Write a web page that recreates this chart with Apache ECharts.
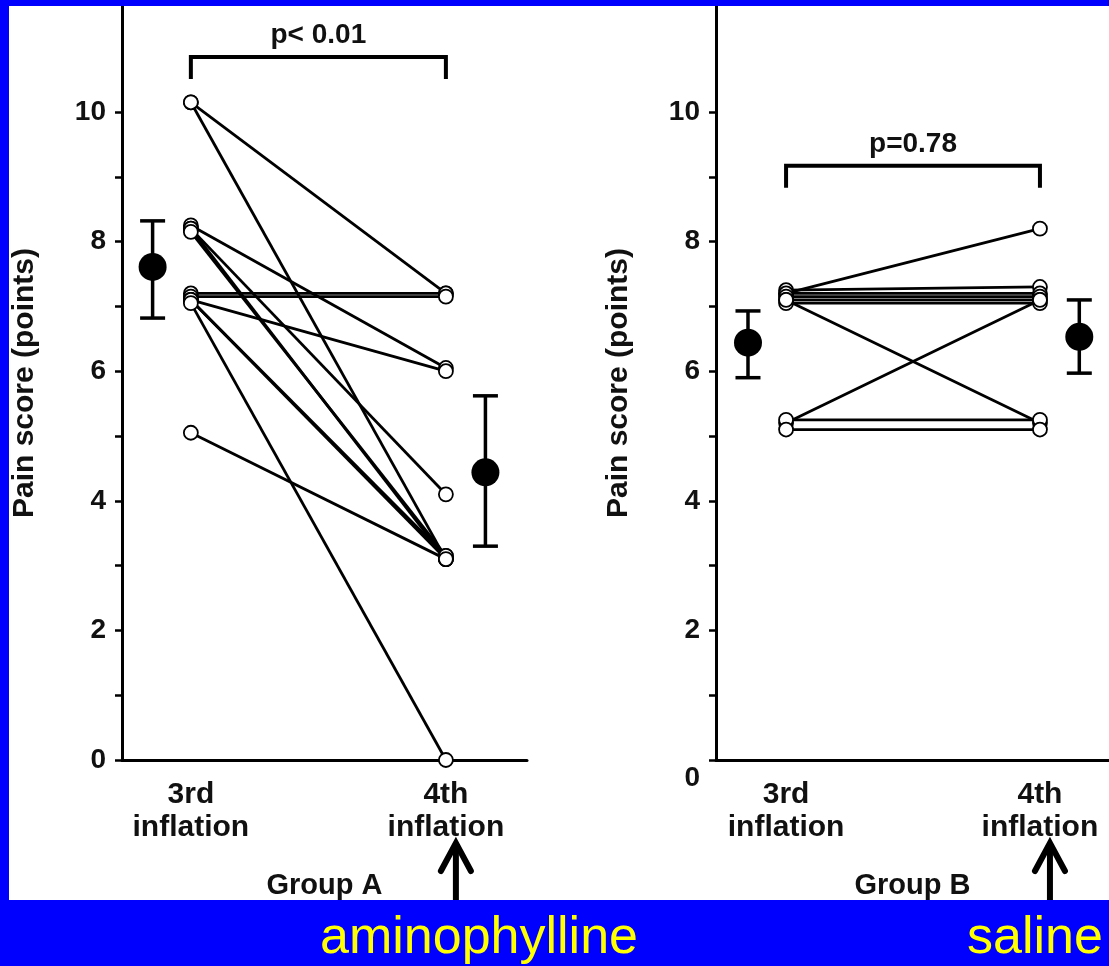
<!DOCTYPE html>
<html><head><meta charset="utf-8">
<script src="https://cdn.jsdelivr.net/npm/echarts@6/dist/echarts.min.js"></script>
<style>html,body{margin:0;padding:0;background:#0000ff}#c{width:1109px;height:966px}</style>
</head><body><div id="c"></div>
<script>
// ---------- data ----------
const categories = ['3rd\ninflation', '4th\ninflation'];
const groupNames = ['Group A', 'Group B'];
const treatments = ['aminophylline', 'saline'];
const pLabels = ['p< 0.01', 'p=0.78'];
const yTickLabels = [0, 2, 4, 6, 8, 10];
const yTicks = [0, 1, 2, 3, 4, 5, 6, 7, 8, 9, 10];

// individual subjects (3rd inflation -> 4th inflation)
const groupA3rd = [10.15, 10.15, 8.25, 8.2, 8.2, 8.15, 7.2, 7.15, 7.1, 7.1, 7.1, 7.05, 5.05];
const groupA4th = [7.2, 3.1, 6.05, 4.1, 3.1, 3.15, 7.2, 7.15, 6.0, 3.1, 3.15, 0, 3.1];
const groupB3rd = [7.2, 7.25, 7.2, 7.15, 7.1, 7.05, 7.1, 5.2, 5.25, 5.1];
const groupB4th = [8.2, 7.3, 7.2, 7.15, 7.1, 7.05, 5.2, 7.1, 5.25, 5.1];

// means and error bars [3rd, 4th]
const groupAMean = [7.61, 4.44];
const groupALow = [6.82, 3.30];
const groupAHigh = [8.32, 5.62];
const groupBMean = [6.44, 6.53];
const groupBLow = [5.90, 5.97];
const groupBHigh = [6.93, 7.10];

// ---------- layout ----------
const FONT = '"Liberation Sans", Arial, Helvetica, sans-serif';
const groups = [
  {pre: groupA3rd, post: groupA4th, mean: groupAMean, low: groupALow, high: groupAHigh},
  {pre: groupB3rd, post: groupB4th, mean: groupBMean, low: groupBLow, high: groupBHigh}
];
const xRange = [{min: -0.27, max: 1.318}, {min: -0.276, max: 1.272}];
const meanOffset = [-0.15, 0.155];
const bracketLevels = [{top: 10.85, leg: 10.51}, {top: 9.17, leg: 8.83}];
const Y_MAX = 11.636;

const grid = [
  {left: 122, top: 6, width: 405, height: 754},
  {left: 716, top: 6, width: 393, height: 754}
];

const xAxis = groups.map((g, i) => ({
  type: 'value', gridIndex: i, min: xRange[i].min, max: xRange[i].max,
  axisLine: {show: true, onZero: false, lineStyle: {color: '#000', width: 3}},
  axisTick: {show: false},
  splitLine: {show: false},
  axisLabel: {
    customValues: [0, 1],
    formatter: v => categories[Math.round(v)],
    fontFamily: FONT, fontSize: 30, fontWeight: 'bold', color: '#111', lineHeight: 33, margin: 18
  },
  name: groupNames[i], nameLocation: 'middle', nameGap: 111,
  nameTextStyle: {fontFamily: FONT, fontSize: 29, fontWeight: 'bold', color: '#111'}
}));

const yAxis = groups.map((g, i) => ({
  type: 'value', gridIndex: i, min: 0, max: Y_MAX,
  axisLine: {show: true, onZero: false, lineStyle: {color: '#000', width: 3}},
  axisTick: {show: true, customValues: yTicks, length: 7, lineStyle: {color: '#000', width: 2.5}},
  splitLine: {show: false},
  axisLabel: {
    customValues: yTickLabels,
    formatter: v => (i === 1 && v === 0) ? '{z|0}' : String(v),
    rich: {z: {fontFamily: FONT, fontSize: 28, fontWeight: 'bold', color: '#111', padding: [36, 0, 0, 0]}},
    fontFamily: FONT, fontSize: 28, fontWeight: 'bold', color: '#111', margin: 16
  },
  name: 'Pain score (points)', nameLocation: 'middle', nameGap: 82,
  nameTextStyle: {fontFamily: FONT, fontSize: 30, fontWeight: 'bold', color: '#111'}
}));

const series = [];
groups.forEach((g, gi) => {
  g.pre.forEach((v, k) => {
    series.push({
      type: 'line', xAxisIndex: gi, yAxisIndex: gi,
      data: [[0, v], [1, g.post[k]]],
      symbol: 'circle', symbolSize: 14, showSymbol: true,
      itemStyle: {color: '#fff', borderColor: '#000', borderWidth: 1.8},
      lineStyle: {color: '#000', width: 2.8},
      silent: true, z: 3
    });
  });
  // error bars
  series.push({
    type: 'custom', xAxisIndex: gi, yAxisIndex: gi, z: 4, silent: true,
    data: g.mean.map((m, k) => [k + meanOffset[k], g.low[k], g.high[k]]),
    renderItem: (params, api) => {
      const x = api.value(0);
      const p1 = api.coord([x, api.value(1)]);
      const p2 = api.coord([x, api.value(2)]);
      const st = {stroke: '#000', lineWidth: 3.5};
      return {type: 'group', children: [
        {type: 'line', shape: {x1: p1[0], y1: p1[1], x2: p2[0], y2: p2[1]}, style: st},
        {type: 'line', shape: {x1: p1[0] - 12.5, y1: p1[1], x2: p1[0] + 12.5, y2: p1[1]}, style: st},
        {type: 'line', shape: {x1: p2[0] - 12.5, y1: p2[1], x2: p2[0] + 12.5, y2: p2[1]}, style: st}
      ]};
    }
  });
  // means
  series.push({
    type: 'scatter', xAxisIndex: gi, yAxisIndex: gi, z: 5, silent: true,
    symbol: 'circle', symbolSize: 28, itemStyle: {color: '#000', opacity: 1},
    data: g.mean.map((m, k) => [k + meanOffset[k], m])
  });
  // significance bracket
  series.push({
    type: 'custom', xAxisIndex: gi, yAxisIndex: gi, z: 4, silent: true,
    data: [[0, 1, bracketLevels[gi].top, bracketLevels[gi].leg]],
    renderItem: (params, api) => {
      const a = api.coord([api.value(0), api.value(3)]);
      const b = api.coord([api.value(0), api.value(2)]);
      const c = api.coord([api.value(1), api.value(2)]);
      const d = api.coord([api.value(1), api.value(3)]);
      return {type: 'group', children: [
        {type: 'polyline', shape: {points: [a, b, c, d]}, style: {stroke: '#000', lineWidth: 4, fill: null}},
        {type: 'text', x: (b[0] + c[0]) / 2, y: b[1] - 22,
         style: {text: pLabels[gi], font: 'bold 28px ' + FONT, fill: '#111', align: 'center', verticalAlign: 'middle'}}
      ]};
    }
  });
});

const chart = echarts.init(document.getElementById('c'), null, {renderer: 'canvas'});
chart.setOption({
  animation: false,
  backgroundColor: '#ffffff',
  grid, xAxis, yAxis, series
});

// annotations: frame, arrows, treatment labels
const arrowX = [0, 1].map(gi => chart.convertToPixel({xAxisIndex: gi}, 1) + 10);
const graphic = [
  {type: 'rect', shape: {x: 0, y: 0, width: 9, height: 966}, style: {fill: '#0000ff'}, z: 100},
  {type: 'rect', shape: {x: 0, y: 0, width: 1109, height: 6}, style: {fill: '#0000ff'}, z: 100},
  {type: 'rect', shape: {x: 0, y: 900, width: 1109, height: 66}, style: {fill: '#0000ff'}, z: 100}
];
arrowX.forEach((x, gi) => {
  graphic.push({type: 'line', shape: {x1: x, y1: 900, x2: x, y2: 845}, style: {stroke: '#000', lineWidth: 6}, z: 100});
  graphic.push({type: 'polyline', shape: {points: [[x - 15, 871], [x, 843], [x + 15, 871]]},
    style: {stroke: '#000', lineWidth: 6, fill: null, lineCap: 'round', lineJoin: 'miter'}, z: 100});
});
const treatX = [479, 1035];
treatments.forEach((t, gi) => {
  graphic.push({type: 'text', x: treatX[gi], y: 939, z: 101,
    style: {text: t, font: '52px ' + FONT, fill: '#ffff00', align: 'center', verticalAlign: 'middle'}});
});
chart.setOption({graphic});
</script></body></html>
